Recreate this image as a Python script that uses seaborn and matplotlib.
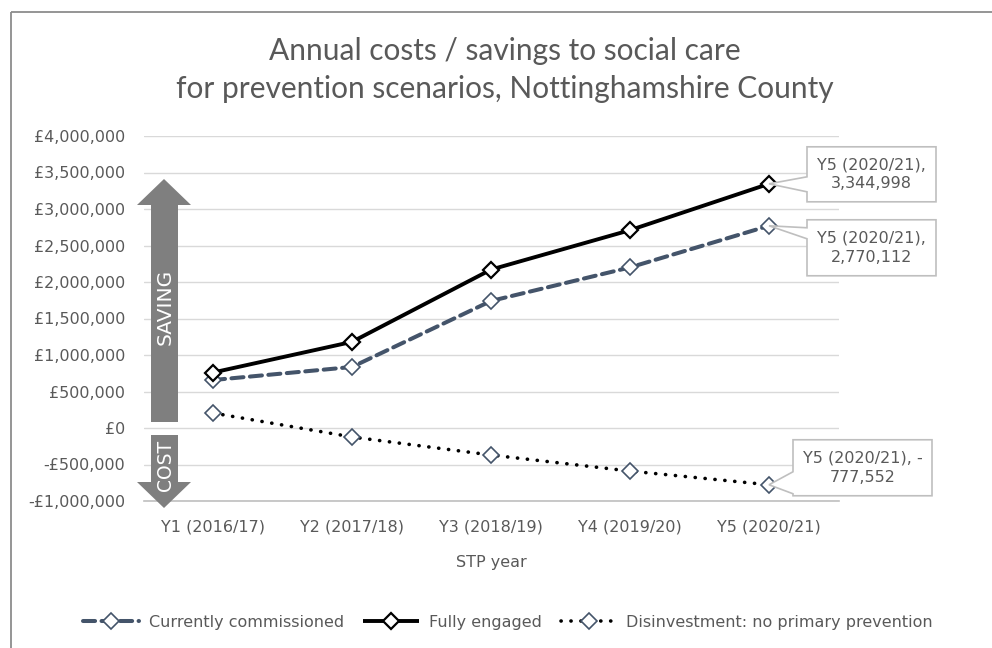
import matplotlib
matplotlib.use("Agg")
import matplotlib.pyplot as plt
import seaborn as sns
import pandas as pd
import numpy as np
from matplotlib.patches import Polygon
from matplotlib.ticker import FuncFormatter, MultipleLocator
from matplotlib.transforms import IdentityTransform

# ---- data ----
years = ["Y1 (2016/17)", "Y2 (2017/18)", "Y3 (2018/19)", "Y4 (2019/20)", "Y5 (2020/21)"]
currently_commissioned = [657000, 836000, 1740000, 2200000, 2770112]
fully_engaged = [760000, 1180000, 2170000, 2710000, 3344998]
disinvestment = [205000, -123000, -370000, -590000, -777552]
series_names = ["Currently commissioned", "Fully engaged", "Disinvestment: no primary prevention"]
title_lines = ["Annual costs / savings to social care",
               "for prevention scenarios, Nottinghamshire County"]
xlabel_text = "STP year"
label_texts = ["Y5 (2020/21),\n3,344,998", "Y5 (2020/21),\n2,770,112", "Y5 (2020/21), -\n777,552"]

sns.set_theme(style="white")
plt.rcParams['font.family'] = ['DejaVu Sans']

W, H = 992, 648
fig = plt.figure(figsize=(W / 100, H / 100), dpi=100)
ax = fig.add_axes([143.5 / W, (H - 501) / H, (838.5 - 143.5) / W, (501 - 136) / H])

grey_text = "#595959"
navy = "#44546a"
small = 11.5

df = pd.DataFrame({
    "year": years * 3,
    "value": currently_commissioned + fully_engaged + disinvestment,
    "series": [series_names[0]] * 5 + [series_names[1]] * 5 + [series_names[2]] * 5,
})

styles = {
    series_names[0]: dict(color=navy, lw=2.9, ls=(0, (3, 1.6)), mec=navy, mew=1.2),
    series_names[1]: dict(color="black", lw=2.8, ls="-", mec="black", mew=1.6),
    series_names[2]: dict(color="black", lw=2.6, ls=(0, (0.05, 2.7)), mec=navy, mew=1.2),
}

for name in series_names:
    st = styles[name]
    sub = df[df["series"] == name]
    sns.lineplot(data=sub, x="year", y="value", ax=ax, color=st["color"], linewidth=st["lw"],
                 linestyle=st["ls"], marker="D", markersize=8, markerfacecolor="white",
                 markeredgecolor=st["mec"], markeredgewidth=st["mew"], label=name,
                 dash_capstyle="round", solid_capstyle="butt", sort=False, zorder=3)

ax.set_xlim(-0.5, 4.5)
ax.set_ylim(-1000000, 4000000)
ax.yaxis.set_major_locator(MultipleLocator(500000))


def fmt(v, pos):
    v = int(round(v))
    if v < 0:
        return "-£{:,}".format(-v)
    return "£{:,}".format(v)


ax.yaxis.set_major_formatter(FuncFormatter(fmt))
ax.grid(axis="y", color="#d9d9d9", linewidth=1.0)
ax.set_axisbelow(True)
for s in ["left", "right", "top"]:
    ax.spines[s].set_visible(False)
ax.spines["bottom"].set_color("#bfbfbf")
ax.spines["bottom"].set_linewidth(1.2)
ax.tick_params(axis="both", length=0, labelsize=small, colors=grey_text)
ax.tick_params(axis="y", pad=13)
ax.tick_params(axis="x", pad=13)
ax.set_xlabel(xlabel_text, fontsize=small, color=grey_text, labelpad=15)
ax.set_ylabel("")

# title (two lines, baselines placed separately)
fig.text(505 / W, 1 - 60 / H, title_lines[0], ha="center", va="baseline", fontsize=21.5,
         color=grey_text, family=["Lato", "DejaVu Sans"])
fig.text(505 / W, 1 - 98 / H, title_lines[1], ha="center", va="baseline", fontsize=21.5,
         color=grey_text, family=["Lato", "DejaVu Sans"])

leg = ax.legend(loc="center", bbox_to_anchor=(508 / W, 1 - 622 / H), bbox_transform=fig.transFigure,
                ncol=3, frameon=False, fontsize=small, handlelength=3.5, columnspacing=1.2,
                handletextpad=0.6)
for t in leg.get_texts():
    t.set_color(grey_text)

# ---- figure border ----
fig.patches.append(Polygon([(11, H - 12), (W + 5, H - 12), (W + 5, -5), (11, -5)], closed=True,
                           fill=False, edgecolor="#8c8c8c", linewidth=1.3,
                           transform=IdentityTransform()))

# ---- SAVING / COST arrows (image pixel coords) ----
def img_poly(pts, **kw):
    return Polygon([(x, H - y) for x, y in pts], closed=True, transform=IdentityTransform(), **kw)

arrow_col = "#7f7f7f"
fig.patches.append(img_poly([(151, 422), (151, 205), (137, 205), (164, 179), (191, 205), (178, 205), (178, 422)],
                            facecolor=arrow_col, edgecolor="none"))
fig.patches.append(img_poly([(151, 435), (151, 482), (137, 482), (164, 508), (191, 482), (178, 482), (178, 435)],
                            facecolor=arrow_col, edgecolor="none"))
fig.text(165 / W, 1 - 307 / H, "SAVING", rotation=90, ha="center", va="center", color="white", fontsize=14.5)
fig.text(165 / W, 1 - 465 / H, "COST", rotation=90, ha="center", va="center", color="white", fontsize=13.5)

# ---- callout labels at Y5 ----
fig.canvas.draw()
last_vals = [fully_engaged[-1], currently_commissioned[-1], disinvestment[-1]]
# offsets in image pixels relative to the point: box x0,x1,y0,y1, pointer y0,y1
callouts = [
    (38, 167, -37, 18, -7, 8),
    (38, 167, -6, 50, 2, 13),
    (24, 163, -45, 11, -13, 9),
]
for val, txt, (bx0, bx1, by0, by1, p0, p1) in zip(last_vals, label_texts, callouts):
    px, py = ax.transData.transform((4, val))
    tx, ty = px, H - py  # image coords
    pts = [(tx + bx0, ty + by0), (tx + bx1, ty + by0), (tx + bx1, ty + by1), (tx + bx0, ty + by1),
           (tx + bx0, ty + p1), (tx, ty), (tx + bx0, ty + p0)]
    fig.patches.append(img_poly(pts, facecolor="white", edgecolor="#bfbfbf", linewidth=1.2, zorder=5))
    cx = tx + (bx0 + bx1) / 2
    cy = ty + (by0 + by1) / 2
    fig.text(cx / W, 1 - cy / H, txt, ha="center", va="center", fontsize=small, color=grey_text,
             linespacing=1.3, zorder=6)

fig.savefig("out.png", dpi=100)
